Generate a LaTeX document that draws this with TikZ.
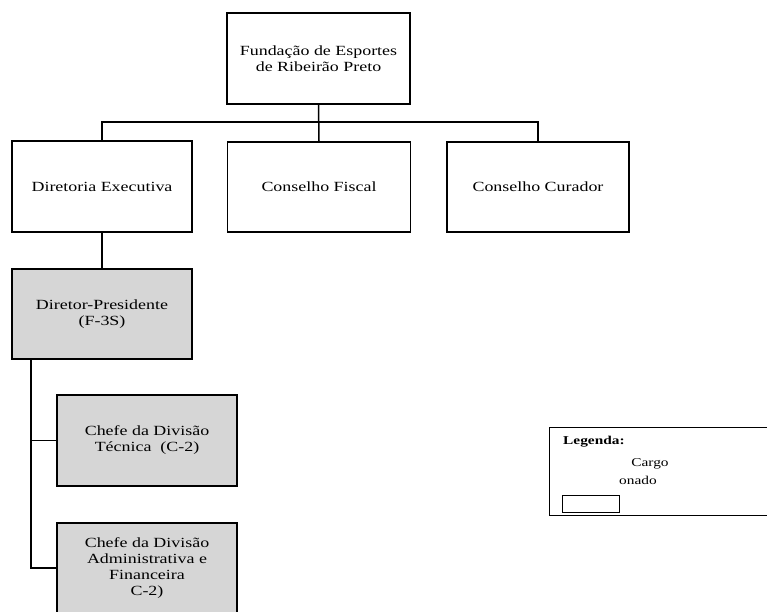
\documentclass[tikz,border=0pt]{standalone}
\usepackage{fontspec}
\setmainfont{Liberation Serif}[FakeStretch=1.28]
\begin{document}
\begin{tikzpicture}[x=1pt,y=-1pt,
  box/.style={draw=black,line width=1.5pt,fill=white,align=center,inner sep=2pt,
    font=\fontsize{14}{16}\selectfont},
  grbox/.style={box,fill=black!16},
  conn/.style={draw=black,line width=1.5pt}]
\useasboundingbox (0,0) rectangle (767,611);
\clip (0,0) rectangle (767,611);
\fill[white] (0,0) rectangle (767,611);
% nodes
\node[box,minimum width=183pt,minimum height=91pt] (top) at (318.5,58.5)
  {Fundação de Esportes\\de Ribeirão Preto};
\node[box,minimum width=180pt,minimum height=91pt] (dir) at (102,186.5) {Diretoria Executiva};
\node[box,minimum width=183pt,minimum height=90pt] (fis) at (319,187) {Conselho Fiscal};
\node[box,minimum width=182pt,minimum height=90pt] (cur) at (538,187) {Conselho Curador};
\node[grbox,minimum width=180pt,minimum height=90pt] (dp) at (102,314) {Diretor-Presidente\\(F-3S)};
\node[grbox,minimum width=180pt,minimum height=91pt] (tec) at (147,440.5) {Chefe da Divisão\\Técnica\ \ (C-2)};
\node[grbox,minimum width=180pt,minimum height=90pt] (adm) at (147,568)
  {Chefe da Divisão\\Administrativa e\\Financeira\\C-2)};
% connectors
\coordinate (bus) at (0,122);
\coordinate (trunk) at (31,0);
\draw[conn] (top.south) -- (fis.north);
\draw[conn] (dir.north) -- (dir.north |- bus) -- (cur.north |- bus) -- (cur.north);
\draw[conn] (dir.south) -- (dp.north);
\draw[conn] (dp.south -| trunk) |- (adm.west);
\draw[conn] (trunk |- tec.west) -- (tec.west);
% legend
\node[draw=black,line width=1.2pt,minimum width=260pt,minimum height=88pt,anchor=north west,inner sep=0pt] (leg) at (549,427) {};
\node[font=\fontsize{12}{14}\selectfont\bfseries,anchor=west,inner sep=0pt] (legt) at (563,442) {Legenda:};
\node[font=\fontsize{12}{14}\selectfont,inner sep=0pt] (cargo) at (650,464) {Cargo};
\node[font=\fontsize{12}{14}\selectfont,inner sep=0pt] (onado) at (638,480) {onado};
\node[draw=black,line width=1.2pt,minimum width=57pt,minimum height=17pt,inner sep=0pt,anchor=north west] (sw) at (562,495) {};
\end{tikzpicture}
\end{document}
